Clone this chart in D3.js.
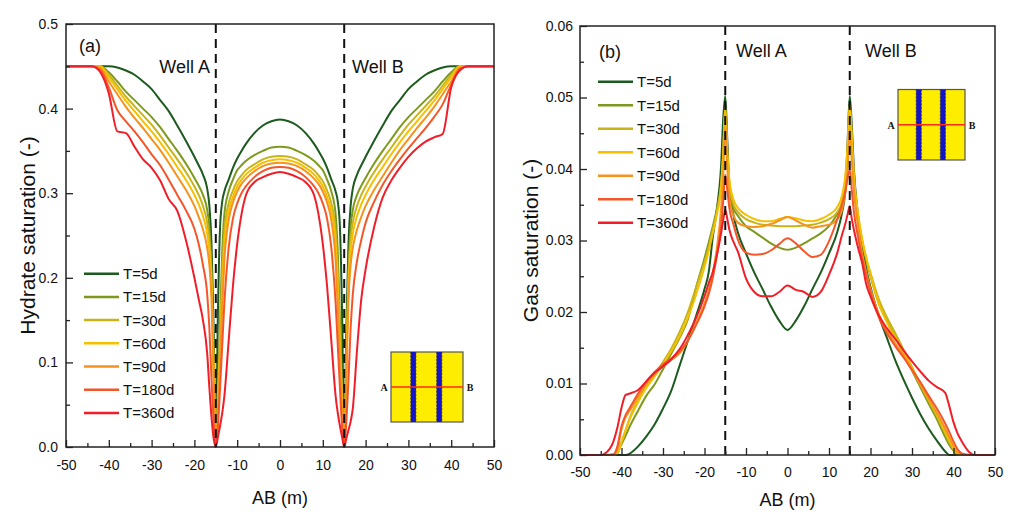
<!DOCTYPE html>
<html>
<head>
<meta charset="utf-8">
<script src="https://cdn.jsdelivr.net/npm/d3@7"></script>
<style>
  html, body { margin: 0; padding: 0; background: #fff; }
  svg { display: block; }
  text { font-family: "Liberation Sans", Arial, sans-serif; fill: #111; }
</style>
</head>
<body>
<svg id="chart" width="1023" height="526"></svg>
<script>
// ---------------- DATA ----------------
const seriesLabels = ["T=5d", "T=15d", "T=30d", "T=60d", "T=90d", "T=180d", "T=360d"];
const seriesColors = ["#1c5a1e", "#7d9a1e", "#c8b41a", "#f6c000", "#f6921e", "#f4562a", "#f01e28"];
const xTicks = [-50, -40, -30, -20, -10, 0, 10, 20, 30, 40, 50];
const xMinorTicks = [-45, -35, -25, -15, -5, 5, 15, 25, 35, 45];
const wellPositions = [-15, 15];
const wellLabels = ["Well A", "Well B"];

// Panel (a): hydrate saturation
const yTicksA = [0.0, 0.1, 0.2, 0.3, 0.4, 0.5];
const yMinorA = [0.05, 0.15, 0.25, 0.35, 0.45];
const xA = [-50,-44,-42,-40,-38,-36,-34,-32,-30,-28,-26,-24,-22,-20,-19,-18,-17,-16.5,-16,-15.5,
  -15,
  -14.5,-14,-13.5,-13,-12,-11,-10,-9,-8,-6,-4,-2,0,2,4,6,8,9,10,11,12,13,13.5,14,14.5,
  15,
  15.5,16,16.5,17,18,19,20,22,24,26,28,30,32,34,36,38,40,42,44,50];
const hyd5d = [.45,.45,.45,.45,.4485,.445,.44,.432,.423,.41,.397,.38,.362,.343,.333,.322,.305,.285,.24,.14,
  0,
  .16,.26,.29,.302,.316,.33,.341,.35,.358,.371,.38,.385,.387,.385,.38,.371,.358,.35,.341,.33,.316,.302,.29,.26,.16,
  0,
  .14,.24,.285,.305,.322,.333,.343,.362,.38,.397,.41,.423,.432,.44,.445,.4485,.45,.45,.45,.45];
const hyd15d = [.45,.45,.45,.443,.432,.42,.41,.40,.39,.378,.364,.35,.335,.318,.309,.298,.28,.26,.21,.11,
  0,
  .07,.15,.23,.275,.302,.316,.327,.333,.338,.345,.35,.354,.355,.354,.35,.345,.338,.333,.327,.316,.302,.275,.23,.15,.07,
  0,
  .11,.21,.26,.28,.298,.309,.318,.335,.35,.364,.378,.39,.40,.41,.42,.432,.443,.45,.45,.45];
const hyd30d = [.45,.45,.45,.44,.427,.414,.403,.392,.381,.368,.354,.34,.325,.308,.298,.285,.265,.245,.2,.1,
  0,
  .06,.13,.205,.255,.288,.303,.314,.321,.327,.334,.34,.343,.344,.343,.34,.334,.327,.321,.314,.303,.288,.255,.205,.13,.06,
  0,
  .1,.2,.245,.265,.285,.298,.308,.325,.34,.354,.368,.381,.392,.403,.414,.427,.44,.45,.45,.45];
const hyd60d = [.45,.45,.45,.437,.423,.409,.397,.385,.373,.36,.346,.331,.316,.298,.287,.273,.252,.232,.19,.09,
  0,
  .05,.115,.185,.24,.279,.296,.308,.316,.322,.33,.336,.339,.34,.339,.336,.33,.322,.316,.308,.296,.279,.24,.185,.115,.05,
  0,
  .09,.19,.232,.252,.273,.287,.298,.316,.331,.346,.36,.373,.385,.397,.409,.423,.437,.45,.45,.45];
const hyd90d = [.45,.45,.448,.432,.417,.402,.389,.377,.364,.351,.336,.32,.304,.285,.272,.257,.235,.215,.175,.08,
  0,
  .04,.1,.165,.22,.268,.289,.302,.311,.317,.326,.332,.335,.336,.335,.332,.326,.317,.311,.302,.289,.268,.22,.165,.1,.04,
  0,
  .08,.175,.215,.235,.257,.272,.285,.304,.32,.336,.351,.364,.377,.389,.402,.417,.432,.448,.45,.45];
const hyd180d = [.45,.45,.446,.425,.398,.385,.373,.36,.346,.333,.316,.298,.28,.258,.24,.215,.18,.14,.08,.03,
  0,
  .025,.07,.12,.17,.235,.27,.288,.3,.308,.319,.326,.33,.331,.33,.326,.319,.308,.3,.288,.27,.235,.17,.12,.07,.025,
  0,
  .03,.08,.14,.18,.22,.245,.265,.29,.31,.326,.34,.353,.365,.377,.39,.405,.428,.447,.45,.45];
const hyd360d = [.45,.45,.443,.418,.373,.371,.355,.34,.33,.315,.293,.279,.245,.2,.175,.15,.11,.07,.035,.01,
  0,
  .012,.025,.04,.06,.125,.19,.24,.275,.297,.313,.319,.323,.325,.323,.319,.313,.297,.275,.24,.19,.125,.06,.04,.025,.012,
  0,
  .01,.02,.03,.045,.115,.175,.21,.26,.295,.315,.33,.343,.353,.361,.366,.37,.425,.445,.45,.45];

// Panel (b): gas saturation
const yTicksB = [0.00, 0.01, 0.02, 0.03, 0.04, 0.05, 0.06];
const yMinorB = [0.005, 0.015, 0.025, 0.035, 0.045, 0.055];
const xB = [-50,-45,-44,-42,-41,-40,-39,-38,-36,-34,-32,-30,-28,-26,-24,-22,-20,-19,-18,-17,-16,-15.5,
  -15,
  -14.5,-14,-13,-12,-10,-8,-6,-4,-2,0,2,4,6,8,10,12,13,14,14.5,
  15,
  15.5,16,17,18,19,20,22,24,26,28,30,32,34,36,38,39,40,41,42,44,45,50];
const gas5d = [0,0,0,0,0,0,0,.0002,.0012,.0026,.0043,.0065,.009,.0125,.016,.0195,.0232,.0255,.0305,.0345,.0405,.047,
  .0502,
  .044,.0375,.0335,.0312,.0282,.0255,.0232,.0208,.0188,.0175,.0188,.0208,.0232,.0255,.0282,.0312,.0335,.0375,.044,
  .0502,
  .046,.04,.0335,.0295,.026,.0235,.0195,.0163,.0132,.0105,.008,.0057,.0037,.002,.0005,0,0,0,0,0,0,0];
const gas15d = [0,0,0,0,.0004,.0015,.0027,.004,.0062,.0083,.0099,.012,.0142,.0164,.019,.0235,.0275,.0297,.032,.0345,.038,.042,
  .0488,
  .041,.0375,.0345,.0335,.032,.0312,.0304,.0296,.029,.0287,.029,.0296,.0303,.031,.032,.0337,.0347,.038,.042,
  .0488,
  .043,.038,.033,.0298,.0272,.025,.0212,.0187,.0165,.0142,.0118,.0095,.0072,.005,.0025,.0014,.0006,0,0,0,0,0];
const gas30d = [0,0,0,0,.0002,.0018,.0035,.0052,.0077,.0097,.0113,.013,.0149,.0172,.02,.0235,.027,.029,.0315,.034,.0378,.042,
  .0488,
  .042,.038,.035,.034,.033,.0325,.0322,.0321,.032,.032,.032,.0321,.0322,.0325,.033,.034,.0352,.039,.043,
  .049,
  .044,.039,.0335,.03,.0275,.0255,.0218,.0192,.017,.0147,.0123,.0099,.0076,.0054,.003,.0018,.0008,.0002,0,0,0,0];
const gas60d = [0,0,0,0,.0002,.0018,.0034,.005,.0074,.0094,.011,.0127,.0145,.0166,.0192,.0225,.0263,.0285,.031,.0337,.0375,.042,
  .0485,
  .0425,.0385,.0357,.0346,.0336,.033,.0327,.0327,.033,.0333,.0331,.0328,.0327,.033,.0336,.0347,.036,.0395,.0435,
  .049,
  .0445,.039,.0338,.0302,.0275,.0252,.0212,.0185,.0164,.0143,.0121,.0099,.0078,.0057,.0033,.0021,.001,.0003,0,0,0,0];
const gas90d = [0,0,0,0,.0008,.0036,.0053,.0062,.0082,.01,.0113,.0124,.0133,.0142,.016,.0185,.0212,.023,.0255,.029,.0345,.039,
  .046,
  .04,.036,.0335,.0325,.032,.0319,.032,.0323,.0328,.0333,.0328,.0322,.0318,.032,.0322,.033,.034,.037,.04,
  .0455,
  .041,.037,.032,.0282,.0255,.0232,.0197,.0174,.0156,.0139,.0119,.0099,.0079,.0059,.0037,.0025,.0013,.0004,0,0,0,0];
const gas180d = [0,0,0,.0001,.0012,.004,.0056,.0066,.0086,.0103,.0116,.0127,.0135,.0145,.016,.0182,.0208,.0225,.0248,.028,.032,.0355,
  .0392,
  .037,.0345,.0322,.0302,.0283,.028,.0281,.0286,.0295,.0303,.0296,.0285,.0277,.028,.0299,.033,.0348,.037,.0388,
  .0399,
  .037,.034,.0305,.0275,.025,.0228,.0193,.017,.0152,.0136,.0119,.0102,.0083,.0065,.0044,.0032,.0019,.0008,.0002,0,0,0];
const gas360d = [0,0,.0002,.0018,.0038,.0066,.0084,.0086,.0091,.0103,.0115,.0124,.0134,.0148,.0168,.0192,.0222,.024,.0256,.028,.031,.0328,
  .0343,
  .033,.0315,.0298,.0285,.0247,.0228,.0222,.0222,.0228,.0237,.0231,.0228,.0221,.0228,.0252,.0283,.0305,.0325,.0337,
  .0348,
  .033,.0315,.029,.0268,.0238,.0222,.0195,.0177,.0162,.0146,.0131,.0117,.0104,.0095,.0087,.0068,.0046,.003,.0019,.0003,0,0];

const hydSeries = [hyd5d, hyd15d, hyd30d, hyd60d, hyd90d, hyd180d, hyd360d];
const gasSeries = [gas5d, gas15d, gas30d, gas60d, gas90d, gas180d, gas360d];

// ---------------- DRAWING ----------------
const svg = d3.select("#chart");

function drawPanel(cfg) {
  const g = svg.append("g");
  const x = d3.scaleLinear().domain([-50, 50]).range([cfg.left, cfg.right]);
  const y = d3.scaleLinear().domain(cfg.yDomain).range([cfg.bottom, cfg.top]);

  // curves
  const line = d3.line().x(d => x(d[0])).y(d => y(d[1])).curve(d3.curveMonotoneX);
  cfg.series.forEach((vals, i) => {
    const pts = cfg.xs.map((xv, j) => [xv, vals[j]]);
    g.append("path").datum(pts)
      .attr("d", line)
      .attr("fill", "none")
      .attr("stroke", seriesColors[i])
      .attr("stroke-width", 2)
      .attr("stroke-linejoin", "round");
  });

  // well dashed lines
  wellPositions.forEach(w => {
    g.append("line")
      .attr("x1", x(w)).attr("x2", x(w))
      .attr("y1", cfg.top).attr("y2", cfg.bottom)
      .attr("stroke", "#111").attr("stroke-width", 2)
      .attr("stroke-dasharray", "9,6");
  });

  // axes
  const xAxis = d3.axisBottom(x).tickValues(xTicks).tickSize(-7).tickPadding(cfg.xPad).tickFormat(d3.format("d"));
  const xMinor = d3.axisBottom(x).tickValues(xMinorTicks).tickSize(-4).tickFormat("");
  const yAxis = d3.axisLeft(y).tickValues(cfg.yTicks).tickSize(-7).tickPadding(cfg.yPad).tickFormat(d3.format(cfg.yFmt));
  const yMinor = d3.axisLeft(y).tickValues(cfg.yMinor).tickSize(-4).tickFormat("");

  [[xAxis, "translate(0," + cfg.bottom + ")"], [xMinor, "translate(0," + cfg.bottom + ")"],
   [yAxis, "translate(" + cfg.left + ",0)"], [yMinor, "translate(" + cfg.left + ",0)"]].forEach(([ax, tr]) => {
    const a = g.append("g").attr("transform", tr).call(ax);
    a.select(".domain").remove();
    a.selectAll(".tick line").attr("stroke", "#222").attr("stroke-width", 1.3);
    a.selectAll(".tick text").attr("font-size", 14).attr("fill", "#111")
      .style("font-family", '"Liberation Sans", Arial, sans-serif');
  });
  g.selectAll(".tick text").each(function(d) {
    const t = d3.select(this);
    if (t.text().startsWith("\u2212")) t.text(t.text().replace("\u2212", "-"));
  });

  // frame
  g.append("rect")
    .attr("x", cfg.left).attr("y", cfg.top)
    .attr("width", cfg.right - cfg.left).attr("height", cfg.bottom - cfg.top)
    .attr("fill", "none").attr("stroke", "#222").attr("stroke-width", 1.5);

  // titles
  g.append("text").attr("x", (cfg.left + cfg.right) / 2).attr("y", cfg.xTitleY)
    .attr("text-anchor", "middle").attr("font-size", 18).text("AB (m)");
  g.append("text")
    .attr("transform", "translate(" + cfg.yTitleX + "," + ((cfg.top + cfg.bottom) / 2) + ") rotate(-90)")
    .attr("text-anchor", "middle").attr("font-size", 21).text(cfg.yTitle);

  // panel tag
  g.append("text").attr("x", cfg.tagX).attr("y", cfg.tagY).attr("font-size", 18).text(cfg.tag);

  // well labels
  wellLabels.forEach((lab, i) => {
    g.append("text").attr("x", cfg.wellLabelX[i]).attr("y", cfg.wellLabelY)
      .attr("text-anchor", cfg.wellAnchor[i]).attr("font-size", 18).text(lab);
  });

  // legend
  seriesLabels.forEach((lab, i) => {
    const yy = cfg.legY + i * cfg.legStep;
    g.append("line").attr("x1", cfg.legX).attr("x2", cfg.legX + cfg.legLen)
      .attr("y1", yy).attr("y2", yy)
      .attr("stroke", seriesColors[i]).attr("stroke-width", 2.5);
    g.append("text").attr("x", cfg.legX + cfg.legLen + 4).attr("y", yy + 5.5)
      .attr("font-size", 15).text(lab);
  });

  // inset schematic
  const ins = cfg.inset;
  const ig = g.append("g");
  ig.append("rect").attr("x", ins.x).attr("y", ins.y).attr("width", ins.w).attr("height", ins.h)
    .attr("fill", "#ffed00").attr("stroke", "#555").attr("stroke-width", 1.2);
  [0.31, 0.67].forEach(f => {
    const cx = ins.x + f * ins.w;
    ig.append("rect").attr("x", cx - 2.6).attr("y", ins.y).attr("width", 5.2).attr("height", ins.h)
      .attr("fill", "#1414c8");
    [cx - 2.6, cx + 2.6].forEach(ex => {
      ig.append("line").attr("x1", ex).attr("x2", ex).attr("y1", ins.y).attr("y2", ins.y + ins.h)
        .attr("stroke", "#333").attr("stroke-width", 0.7).attr("stroke-dasharray", "2,1.5");
    });
  });
  ig.append("line").attr("x1", ins.x).attr("x2", ins.x + ins.w)
    .attr("y1", ins.y + ins.h / 2).attr("y2", ins.y + ins.h / 2)
    .attr("stroke", "#ff2a1a").attr("stroke-width", 1.6);
  ig.append("text").attr("x", ins.x - 7).attr("y", ins.y + ins.h / 2 + 4)
    .attr("text-anchor", "middle").attr("font-size", 10).attr("font-weight", "bold")
    .style("font-family", '"Liberation Serif", "DejaVu Serif", serif').text("A");
  ig.append("text").attr("x", ins.x + ins.w + 7).attr("y", ins.y + ins.h / 2 + 4)
    .attr("text-anchor", "middle").attr("font-size", 10).attr("font-weight", "bold")
    .style("font-family", '"Liberation Serif", "DejaVu Serif", serif').text("B");
}

drawPanel({
  left: 66, right: 494, top: 24, bottom: 447,
  yDomain: [0, 0.5], yTicks: yTicksA, yMinor: yMinorA, yFmt: ".1f",
  xs: xA, series: hydSeries,
  xPad: 13, yPad: 8,
  xTitleY: 504, yTitleX: 35, yTitle: "Hydrate saturation (-)",
  tag: "(a)", tagX: 79, tagY: 52,
  wellLabelX: [210, 352], wellLabelY: 73, wellAnchor: ["end", "start"],
  legX: 84, legLen: 35, legY: 273.7, legStep: 23.2,
  inset: { x: 391, y: 352, w: 72, h: 70 }
});

drawPanel({
  left: 580, right: 995, top: 26, bottom: 455,
  yDomain: [0, 0.06], yTicks: yTicksB, yMinor: yMinorB, yFmt: ".2f",
  xs: xB, series: gasSeries,
  xPad: 12, yPad: 7,
  xTitleY: 506, yTitleX: 538, yTitle: "Gas saturation (-)",
  tag: "(b)", tagX: 599, tagY: 58,
  wellLabelX: [736, 865], wellLabelY: 57, wellAnchor: ["start", "start"],
  legX: 598, legLen: 35, legY: 81.7, legStep: 23.5,
  inset: { x: 898, y: 89.5, w: 67, h: 70.5 }
});
</script>
</body>
</html>
